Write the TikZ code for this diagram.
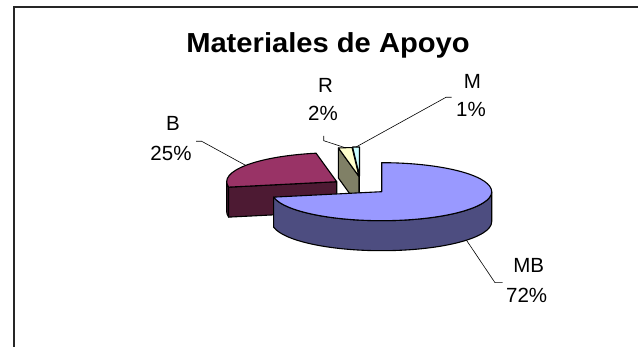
\documentclass[tikz,border=0pt]{standalone}
\usepackage{fontspec}
\setmainfont{Liberation Sans}
\usepackage{graphicx}
\usetikzlibrary{calc}
\definecolor{mbtop}{RGB}{153,153,255}
\definecolor{mbside}{RGB}{77,77,128}
\definecolor{btop}{RGB}{153,51,102}
\definecolor{bside}{RGB}{77,26,51}
\definecolor{rtop}{RGB}{255,255,204}
\definecolor{rside}{RGB}{128,128,102}
\definecolor{mtop}{RGB}{204,255,255}
\definecolor{mside}{RGB}{102,128,128}
\begin{document}
\begin{tikzpicture}[x=1pt,y=1pt,
  face/.style={draw=black, line width=1.1pt, line join=round},
  lbl/.style={inner sep=0pt, anchor=base, font=\fontsize{20.5}{24}\selectfont},
  leader/.style={draw=black, line width=0.6pt},
  frameline/.style={draw=black!85, line width=1.6pt},
  ell/.style={x radius=110pt, y radius=29pt}]
\useasboundingbox (0,0) rectangle (638,347);
\fill[white] (0,0) rectangle (638,347);
\draw[frameline] (14,-3) -- (14,339.7) -- (641,339.7);

\node[anchor=base, inner sep=0pt, font=\fontsize{27.5}{32}\selectfont\bfseries] (title) at (328,294.7) {\scalebox{1.06}[1]{Materiales de Apoyo}};

\coordinate (cMB) at (381.7,155.3);
\coordinate (cB) at (336.7,165.3);
\coordinate (cR) at (359,170.5);
\coordinate (cM) at (359.5,171);

% B slice
\filldraw[face, fill=bside] ($(cB)+(180:110pt and 29pt)$) arc[start angle=180, end angle=190.8, ell] -- ++(0,-30) arc[start angle=190.8, end angle=180, ell] -- cycle;
\filldraw[face, fill=bside] (cB) -- ($(cB)+(190.8:110pt and 29pt)$) -- ($(cB)+(190.8:110pt and 29pt)+(0,-30)$) -- ($(cB)+(0,-30)$) -- cycle;
\filldraw[face, fill=btop] (cB) -- ($(cB)+(100.8:110pt and 29pt)$) arc[start angle=100.8, end angle=190.8, ell] -- cycle;

% R slice
\filldraw[face, fill=rside] (cR) -- ($(cR)+(100.8:110pt and 29pt)$) -- ($(cR)+(100.8:110pt and 29pt)+(0,-30)$) -- ($(cR)+(0,-30)$) -- cycle;
\filldraw[face, fill=rtop] (cR) -- ($(cR)+(93.6:110pt and 29pt)$) arc[start angle=93.6, end angle=100.8, ell] -- cycle;

% M slice
\draw[face] (cM) -- ($(cM)+(0,-30)$);
\filldraw[face, fill=mtop] (cM) -- ($(cM)+(90:110pt and 29pt)$) arc[start angle=90, end angle=93.6, ell] -- cycle;

% MB slice
\filldraw[face, fill=mbside] ($(cMB)+(190.8:110pt and 29pt)$) arc[start angle=190.8, end angle=360, ell] -- ++(0,-30) arc[start angle=360, end angle=190.8, ell] -- cycle;
\filldraw[face, fill=mbtop] (cMB) -- ($(cMB)+(190.8:110pt and 29pt)$) arc[start angle=190.8, end angle=450, ell] -- cycle;

% labels
\node[lbl] (bName) at (173,216) {B};
\node[lbl] (bPct) at (171,186) {25\%};
\node[lbl] (rName) at (325.5,254.7) {R};
\node[lbl] (rPct) at (323,226.3) {2\%};
\node[lbl] (mName) at (472.3,258.7) {M};
\node[lbl] (mPct) at (471,230) {1\%};
\node[lbl] (mbName) at (528.7,74.5) {MB};
\node[lbl] (mbPct) at (526.7,44) {72\%};

% leaders
\coordinate (bStart) at (196,205.7);
\coordinate (bEnd) at ($(cB)+(145.8:110pt and 29pt)$);
\coordinate (rStart) at (323.7,211);
\coordinate (rEnd) at ($(cR)+(97.2:110pt and 29pt)$);
\coordinate (mStart) at (451.7,249.7);
\coordinate (mEnd) at ($(cM)+(91.8:110pt and 29pt)$);
\coordinate (mbStart) at (502.7,64.3);
\coordinate (mbEnd) at ($(cMB)+(0,-30)+(-39.6:110pt and 29pt)$);
\draw[leader] (bStart) -- ++(5.7,0) -- (bEnd);
\draw[leader] (rStart) -- ++(0,-4.7) -- (rEnd);
\draw[leader] (mStart) -- ++(-5.7,0) -- (mEnd);
\draw[leader] (mbStart) -- ++(-7.7,0) -- (mbEnd);
\end{tikzpicture}
\end{document}
